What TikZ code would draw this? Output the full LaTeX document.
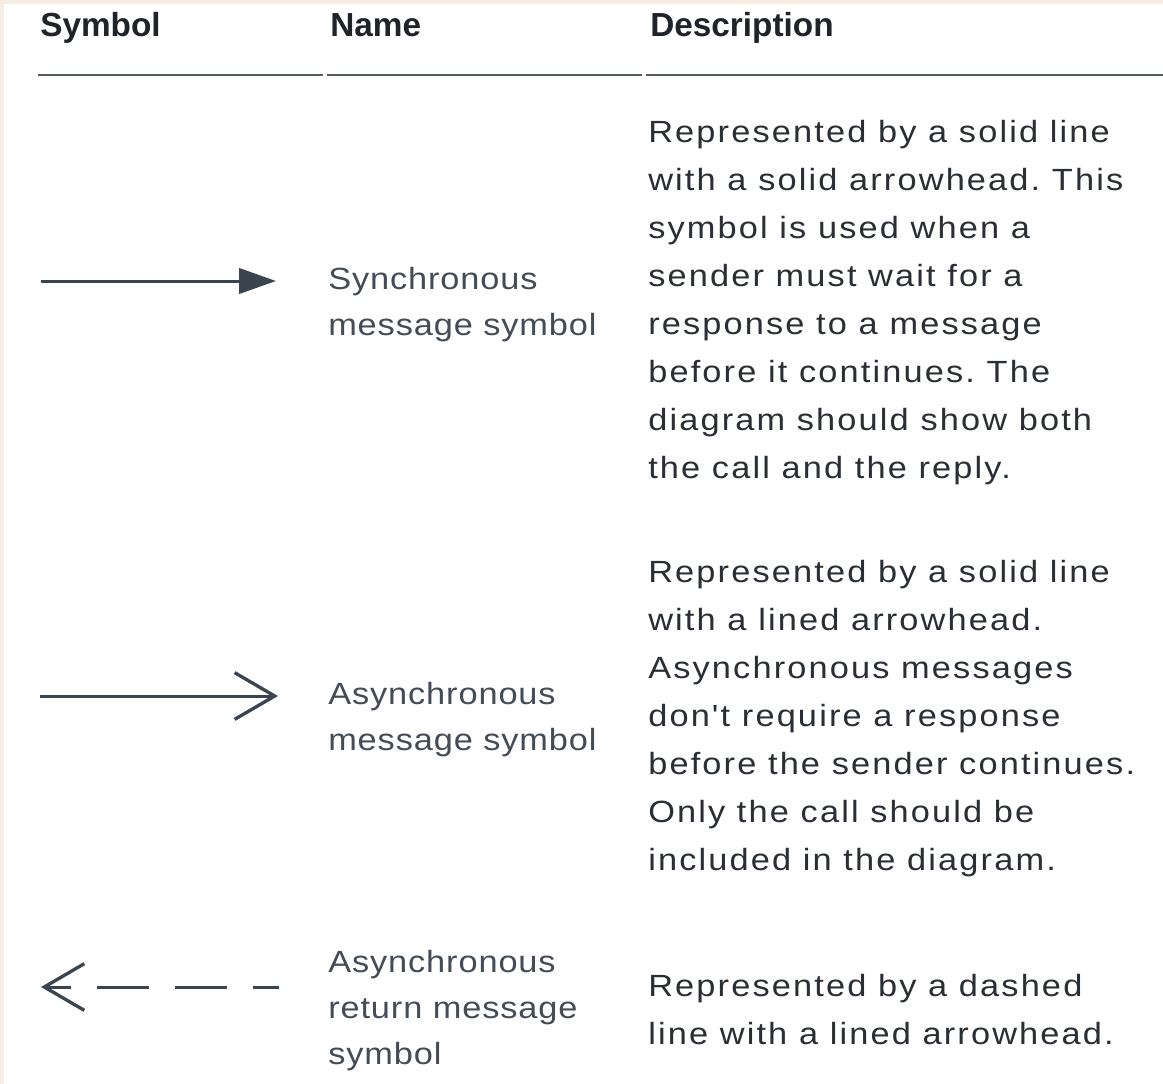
\documentclass[tikz,border=0pt]{standalone}
\usepackage{fontspec}
\setmainfont{Liberation Sans}
\newfontfamily\descfont{Liberation Sans}[FakeStretch=1.12, LetterSpace=7]
\newfontfamily\namefont{Liberation Sans}[FakeStretch=1.12, LetterSpace=2.9]
\usetikzlibrary{arrows.meta}

\definecolor{cream}{HTML}{F6EEE2}
\definecolor{headink}{HTML}{1F232A}
\definecolor{descink}{HTML}{2A2E35}
\definecolor{nameink}{HTML}{434C57}
\definecolor{ruleink}{HTML}{555B63}
\definecolor{arrowink}{HTML}{3B4550}

% multi-line nodes are placed by the baseline of their last line
\tikzset{
  head/.style={font=\fontsize{25}{30}\selectfont\bfseries, text=headink,
    inner sep=0pt, anchor=base west},
  symname/.style={font=\namefont\fontsize{23}{34.5}\selectfont\frenchspacing, text=nameink,
    inner sep=0pt, anchor=base west, align=left},
  desc/.style={font=\descfont\fontsize{23}{36}\selectfont\frenchspacing, text=descink,
    inner sep=0pt, anchor=base west, align=left},
  rule/.style={draw=ruleink, line width=1.5pt},
  msg/.style={draw=arrowink, line width=2.25pt},
}

\begin{document}
\begin{tikzpicture}[x=0.75pt, y=-0.75pt]
  % page and cream frame
  \fill[cream] (0,0) rectangle (1163,1084);
  \fill[white] (4,4) rectangle (1163,1084);
  \useasboundingbox (0,0) rectangle (1163,1084);

  % column headers
  \node[head] (hsym) at (40,37) {Symbol};
  \node[head] (hname) at (330,37) {Name};
  \node[head] (hdesc) at (650,37) {Description};

  % header rules
  \coordinate (r1a) at (38,75);   \coordinate (r1b) at (323,75);
  \coordinate (r2a) at (327,75);  \coordinate (r2b) at (642,75);
  \coordinate (r3a) at (646,75);  \coordinate (r3b) at (1163,75);
  \draw[rule] (r1a) -- (r1b);
  \draw[rule] (r2a) -- (r2b);
  \draw[rule] (r3a) -- (r3b);

  % synchronous message: solid line, solid head
  \coordinate (s1a) at (41,281);  \coordinate (s1b) at (276,281);
  \draw[msg, -{Triangle[length=27.75pt, width=19pt]}] (s1a) -- (s1b);

  % asynchronous message: solid line, lined head
  \coordinate (s2a) at (40,696);  \coordinate (s2b) at (278,696);
  \draw[msg, -{Straight Barb[length=30pt, width=35pt, line width=2.5pt]}] (s2a) -- (s2b);

  % asynchronous return: dashed line, lined head pointing left
  \coordinate (s3a) at (279,987);  \coordinate (s3b) at (41,987);
  \draw[msg, dash pattern=on 39pt off 19.5pt, dash phase=19.5pt,
        -{Straight Barb[length=30pt, width=35pt, line width=2.5pt]}] (s3a) -- (s3b);

  % names
  \node[symname] (n1) at (328,335) {Synchronous\\message symbol};
  \node[symname] (n2) at (328,750) {Asynchronous\\message symbol};
  \node[symname] (n3) at (328,1064) {Asynchronous\\return message\\symbol};

  % descriptions
  \node[desc] (d1) at (648,478) {Represented by a solid line\\with a solid arrowhead. This\\symbol is used when a\\sender must wait for a\\response to a message\\before it continues. The\\diagram should show both\\the call and the reply.};
  \node[desc] (d2) at (648,870) {Represented by a solid line\\with a lined arrowhead.\\Asynchronous messages\\don't require a response\\before the sender continues.\\Only the call should be\\included in the diagram.};
  \node[desc] (d3) at (648,1044) {Represented by a dashed\\line with a lined arrowhead.};
\end{tikzpicture}
\end{document}
